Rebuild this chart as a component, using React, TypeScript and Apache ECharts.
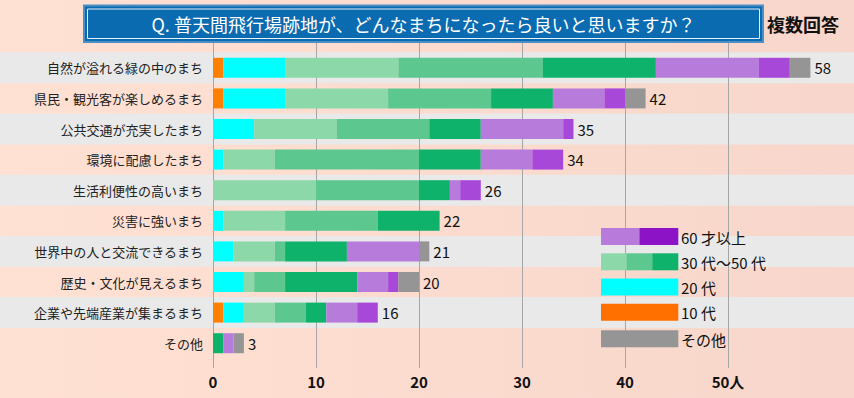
import React, { useEffect, useRef } from "react";
import * as echarts from "echarts";

const titleText = "Q. 普天間飛行場跡地が、どんなまちになったら良いと思いますか？";
const noteText = "複数回答";
const categories = [
  "自然が溢れる緑の中のまち",
  "県民・観光客が楽しめるまち",
  "公共交通が充実したまち",
  "環境に配慮したまち",
  "生活利便性の高いまち",
  "災害に強いまち",
  "世界中の人と交流できるまち",
  "歴史・文化が見えるまち",
  "企業や先端産業が集まるまち",
  "その他",
];
const teens = [1, 1, 0, 0, 0, 0, 0, 0, 1, 0];
const twenties = [6, 6, 4, 1, 0, 1, 2, 3, 2, 0];
const thirties = [11, 10, 8, 5, 10, 6, 4, 1, 3, 0];
const forties = [14, 10, 9, 14, 10, 9, 1, 3, 3, 0];
const fifties = [11, 6, 5, 6, 3, 6, 6, 7, 2, 1];
const sixties = [10, 5, 8, 5, 1, 0, 7, 3, 3, 1];
const seventies = [3, 2, 1, 3, 2, 0, 0, 1, 2, 0];
const others = [2, 2, 0, 0, 0, 0, 1, 2, 0, 1];
const tickValues = [0, 10, 20, 30, 40, 50];
const unitLabel = "人";

const seriesDefs = [
  { name: "10代", data: teens, color: "#ff8000" },
  { name: "20代", data: twenties, color: "#00ffff" },
  { name: "30代", data: thirties, color: "#8dd8a8" },
  { name: "40代", data: forties, color: "#5cc78e" },
  { name: "50代", data: fifties, color: "#0fb26b" },
  { name: "60代", data: sixties, color: "#b77bdb" },
  { name: "70代以上", data: seventies, color: "#a848d9" },
  { name: "その他", data: others, color: "#959595" },
];

const legendItems = [
  { label: "60 才以上", colors: ["#b87bdc", "#8c14c6"] },
  { label: "30 代〜50 代", colors: ["#8dd8a8", "#5cc78e", "#0fb26b"] },
  { label: "20 代", colors: ["#00ffff"] },
  { label: "10 代", colors: ["#ff7000"] },
  { label: "その他", colors: ["#959595"] },
];

const FONT = "'Noto Sans CJK JP', 'Noto Sans', sans-serif";

export default function App() {
  const ref = useRef<HTMLDivElement>(null);
  useEffect(() => {
    if (!ref.current) return;
    const chart = echarts.init(ref.current, null, { renderer: "svg" });
    const totals = categories.map((_, i) =>
      seriesDefs.reduce((s, d) => s + d.data[i], 0)
    );
    const series: any[] = seriesDefs.map((d) => ({
      name: d.name,
      type: "bar",
      stack: "total",
      barWidth: 20,
      data: d.data,
      itemStyle: { color: d.color },
      silent: true,
    }));
    series.push({
      name: "合計",
      type: "bar",
      barWidth: 20,
      barGap: "-100%",
      data: totals,
      z: 1,
      itemStyle: { color: "rgba(0,0,0,0)" },
      label: {
        show: true,
        position: "right",
        distance: 4,
        fontSize: 15,
        color: "#111",
        fontFamily: FONT,
      },
      silent: true,
    });
    chart.setOption({
      animation: false,
      backgroundColor: new echarts.graphic.LinearGradient(0, 0, 1, 0, [
        { offset: 0, color: "#ffe1d3" },
        { offset: 1, color: "#f8d6cb" },
      ]),
      textStyle: { fontFamily: FONT },
      grid: { left: 213, right: 23, top: 52.5, bottom: 39.5, containLabel: false },
      xAxis: {
        type: "value",
        min: 0,
        max: 60,
        interval: 10,
        axisLine: { show: false },
        axisTick: { show: false },
        splitLine: { show: false },
        axisLabel: {
          showMaxLabel: false,
          margin: 15,
          fontSize: 15,
          fontWeight: "bold",
          color: "#111",
          fontFamily: FONT,
          formatter: (v: number) => (v === 50 ? `50${unitLabel}` : String(v)),
        },
      },
      yAxis: {
        type: "category",
        inverse: true,
        data: categories,
        axisLine: { show: false },
        axisTick: { show: false },
        axisLabel: { fontSize: 13, color: "#222", margin: 10, fontFamily: FONT },
      },
      series,
    });

    const graphics: any[] = [];
    categories.forEach((_, i) => {
      if (i % 2 === 0) {
        const cy = chart.convertToPixel({ yAxisIndex: 0 }, i) as number;
        graphics.push({
          type: "rect",
          z: -5,
          silent: true,
          shape: { x: 0, y: cy - 15.5, width: 854, height: 31 },
          style: { fill: "#e9e9e9" },
        });
      }
    });
    tickValues.forEach((v) => {
      const x = Math.round(chart.convertToPixel({ xAxisIndex: 0 }, v) as number) + 0.5;
      graphics.push({
        type: "line",
        z: -4,
        silent: true,
        shape: { x1: x, y1: 43, x2: x, y2: 368 },
        style: { stroke: "#a6a6a6", lineWidth: 1 },
      });
    });
    // title box
    graphics.push({
      type: "rect",
      z: 5,
      shape: { x: 84, y: 5.5, width: 679, height: 36.5 },
      style: { fill: "#0a6bb1", stroke: "#4b8fc6", lineWidth: 2 },
    });
    graphics.push({
      type: "rect",
      z: 6,
      shape: { x: 87.5, y: 9, width: 672, height: 29.5 },
      style: { fill: "none", stroke: "#e8f0f8", lineWidth: 1 },
    });
    graphics.push({
      type: "text",
      z: 7,
      x: 423.5,
      y: 24,
      style: {
        text: titleText,
        fill: "#ffffff",
        fontSize: 18,
        fontFamily: FONT,
        align: "center",
        verticalAlign: "middle",
      },
    });
    graphics.push({
      type: "text",
      z: 7,
      x: 767,
      y: 24,
      style: {
        text: noteText,
        fill: "#111",
        fontSize: 18,
        fontWeight: "bold",
        fontFamily: FONT,
        align: "left",
        verticalAlign: "middle",
      },
    });
    // legend
    const legendCenters = [236.5, 261.8, 287, 312.3, 338.8];
    const boxX = 601;
    const boxW = 77;
    legendItems.forEach((item, i) => {
      const cy = legendCenters[i];
      const n = item.colors.length;
      item.colors.forEach((c, k) => {
        graphics.push({
          type: "rect",
          z: 8,
          shape: { x: boxX + (boxW * k) / n, y: cy - 8.5, width: boxW / n + 0.3, height: 17 },
          style: { fill: c },
        });
      });
      graphics.push({
        type: "text",
        z: 8,
        x: 681,
        y: cy + 0.5,
        style: {
          text: item.label,
          fill: "#111",
          fontSize: 15,
          fontFamily: FONT,
          align: "left",
          verticalAlign: "middle",
        },
      });
    });
    chart.setOption({ graphic: graphics });
    return () => chart.dispose();
  }, []);
  return (
    <div
      ref={ref}
      style={{ position: "fixed", left: 0, top: 0, width: 854, height: 398 }}
    />
  );
}
